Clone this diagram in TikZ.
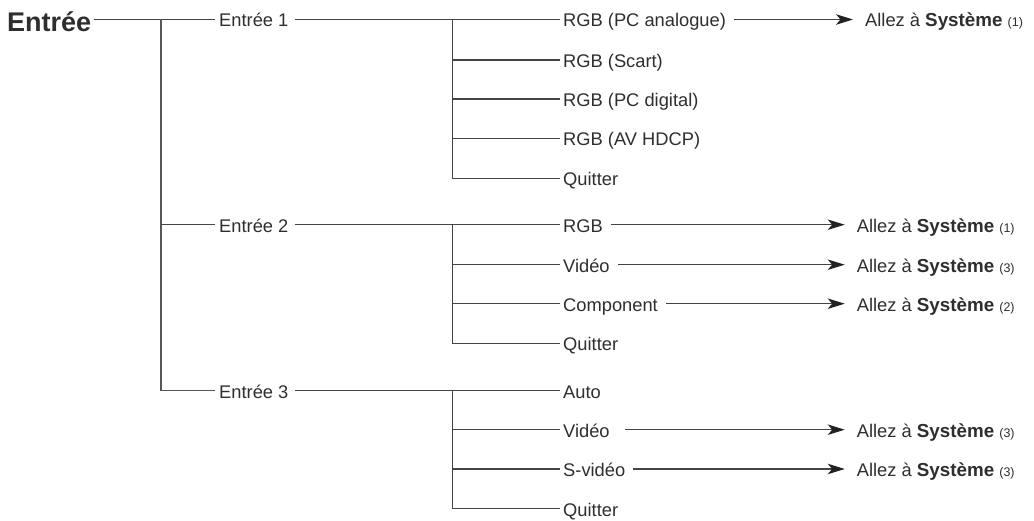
\documentclass[tikz,border=0pt]{standalone}
\usepackage{fontspec}
\setmainfont{Liberation Sans}
\usetikzlibrary{arrows.meta}
\definecolor{ink}{HTML}{2E2E2E}
\definecolor{wirec}{HTML}{444444}
\definecolor{tipc}{HTML}{222222}
\begin{document}
\begin{tikzpicture}[x=1pt,y=-1pt,
  lbl/.style={anchor=base west,inner sep=0pt,text=ink,font=\fontsize{18.3}{21}\selectfont},
  rootlbl/.style={anchor=base west,inner sep=0pt,text=ink,font=\fontsize{27}{31}\selectfont\bfseries},
  wire/.style={draw=wirec,line width=1.2pt},
  trunk/.style={draw=wirec!90,line width=1.6pt},
  goto/.style={draw=wirec,line width=1.2pt,-{Stealth[length=17pt,width=10.5pt,inset=4.5pt,color=tipc]},shorten <=8pt,shorten >=12pt},
  lead/.style={wire,shorten >=3pt}
]
\path[use as bounding box] (0,0) rectangle (1034,521);

\newcommand{\sysref}[1]{Allez à {\fontsize{18.8}{21}\selectfont\bfseries Système} {\fontsize{12.5}{14}\selectfont (#1)}}

% root and first level
\node[rootlbl] (root) at (7,31.7) {Entrée};
\node[lbl] (e1) at (219,27) {Entrée 1};
\node[lbl] (e2) at (219,232.2) {Entrée 2};
\node[lbl] (e3) at (219,398.2) {Entrée 3};

\coordinate (t1) at (161,19.5);
\coordinate (t2) at (161,224.7);
\coordinate (t3) at (161,390.7);
\coordinate (g1) at (452.5,19.5);
\coordinate (g2) at (452.5,224.7);
\coordinate (g3) at (452.5,390.7);

% second level rows
\coordinate (ra1) at (452.5,19.5);
\coordinate (ra2) at (452.5,60);
\coordinate (ra3) at (452.5,99);
\coordinate (ra4) at (452.5,138.3);
\coordinate (ra5) at (452.5,178.3);
\coordinate (rb1) at (452.5,224.7);
\coordinate (rb2) at (452.5,264.7);
\coordinate (rb3) at (452.5,303.7);
\coordinate (rb4) at (452.5,343.3);
\coordinate (rc1) at (452.5,390.7);
\coordinate (rc2) at (452.5,429.7);
\coordinate (rc3) at (452.5,469);
\coordinate (rc4) at (452.5,508.7);

\node[lbl] (a1) at (563,27) {RGB (PC analogue)};
\node[lbl] (a2) at (563,67.5) {RGB (Scart)};
\node[lbl] (a3) at (563,106.5) {RGB (PC digital)};
\node[lbl] (a4) at (563,145.8) {RGB (AV HDCP)};
\node[lbl] (a5) at (563,185.8) {Quitter};
\node[lbl] (b1) at (563,232.2) {RGB};
\node[lbl] (b2) at (563,272.2) {Vidéo};
\node[lbl] (b3) at (563,311.2) {Component};
\node[lbl] (b4) at (563,350.8) {Quitter};
\node[lbl] (c1) at (563,398.2) {Auto};
\node[lbl] (c2) at (563,437.2) {Vidéo};
\node[lbl] (c3) at (563,476.5) {S-vidéo};
\node[lbl] (c4) at (563,516.2) {Quitter};

% targets
\node[lbl] (ta1) at (865,27) {\sysref{1}};
\node[lbl] (tb1) at (856.7,232.2) {\sysref{1}};
\node[lbl] (tb2) at (856.7,272.2) {\sysref{3}};
\node[lbl] (tb3) at (856.7,311.2) {\sysref{2}};
\node[lbl] (tc2) at (856.7,437.2) {\sysref{3}};
\node[lbl] (tc3) at (856.7,476.5) {\sysref{3}};

% first level wiring
\draw[wire,shorten <=3pt,shorten >=4pt] (root.east |- t1) -- (e1.west |- t1);
\draw[trunk] (t1) -- (t3) -- ([xshift=-4pt]e3.west |- t3);
\draw[wire,shorten >=4pt] (t2) -- (e2.west |- t2);
\draw[wire,shorten <=6pt] (e1.east |- t1) -- (g1);
\draw[wire,shorten <=6pt] (e2.east |- t2) -- (g2);
\draw[wire,shorten <=6pt] (e3.east |- t3) -- (g3);

% group 1
\draw[wire] (g1) -- (ra5) -- ([xshift=-3pt]a5.west |- ra5);
\draw[lead] (ra1) -- (a1.west |- ra1);
\draw[lead] (ra2) -- (a2.west |- ra2);
\draw[lead] (ra3) -- (a3.west |- ra3);
\draw[lead] (ra4) -- (a4.west |- ra4);
% group 2
\draw[wire] (g2) -- (rb4) -- ([xshift=-3pt]b4.west |- rb4);
\draw[lead] (rb1) -- (b1.west |- rb1);
\draw[lead] (rb2) -- (b2.west |- rb2);
\draw[lead] (rb3) -- (b3.west |- rb3);
% group 3
\draw[wire] (g3) -- (rc4) -- ([xshift=-3pt]c4.west |- rc4);
\draw[lead] (rc1) -- (c1.west |- rc1);
\draw[lead] (rc2) -- (c2.west |- rc2);
\draw[lead] (rc3) -- (c3.west |- rc3);

% arrows
\draw[goto] (a1.east |- ra1) -- (ta1.west |- ra1);
\draw[goto] (b1.east |- rb1) -- (tb1.west |- rb1);
\draw[goto] (b2.east |- rb2) -- (tb2.west |- rb2);
\draw[goto] (b3.east |- rb3) -- (tb3.west |- rb3);
\draw[goto,shorten <=15pt] (c2.east |- rc2) -- (tc2.west |- rc2);
\draw[goto] (c3.east |- rc3) -- (tc3.west |- rc3);
\end{tikzpicture}
\end{document}
